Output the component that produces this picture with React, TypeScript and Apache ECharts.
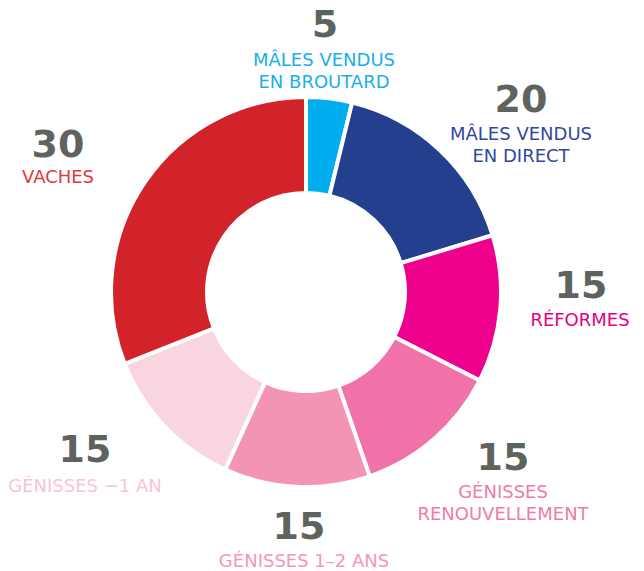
import React, { useEffect, useRef } from "react";
import * as echarts from "echarts";

// Categories (clockwise from the top)
const categories = [
  "MÂLES VENDUS\nEN BROUTARD",
  "MÂLES VENDUS\nEN DIRECT",
  "RÉFORMES",
  "GÉNISSES\nRENOUVELLEMENT",
  "GÉNISSES 1–2 ANS",
  "GÉNISSES −1 AN",
  "VACHES",
];
// Numbers printed next to each slice
const labelValues = [5, 20, 15, 15, 15, 15, 30];
// Share of the ring each slice occupies
const sliceShares = [3.8, 16.5, 12.2, 12.2, 12.1, 12.2, 31.0];

const sliceColors = ["#00aeef", "#253f8f", "#ec008c", "#f072a9", "#f394b4", "#f9d5e0", "#d2232a"];
const textColors = ["#1aaeea", "#2f4a9b", "#e6007e", "#f07aac", "#f497b6", "#f8c4d4", "#e0383e"];
// Label anchor positions: number center, text block center
const labelPos = [
  { nx: 325, ny: 24, tx: 324, ty: 70 },
  { nx: 521, ny: 99, tx: 521, ty: 144 },
  { nx: 581, ny: 285, tx: 580, ty: 319 },
  { nx: 503, ny: 457, tx: 503, ty: 502 },
  { nx: 299, ny: 526, tx: 304, ty: 560 },
  { nx: 85, ny: 449, tx: 85, ty: 485 },
  { nx: 58, ny: 144, tx: 58, ty: 176 },
];

export default function App() {
  const ref = useRef<HTMLDivElement>(null);
  useEffect(() => {
    if (!ref.current) return;
    const chart = echarts.init(ref.current, null, { renderer: "svg" });
    const graphics: any[] = [];
    categories.forEach((c, i) => {
      const p = labelPos[i];
      graphics.push({
        type: "text",
        x: p.nx,
        y: p.ny,
        style: {
          text: String(labelValues[i]),
          fill: "#5f635e",
          font: "bold 38px 'DejaVu Sans'",
          align: "center",
          verticalAlign: "middle",
        },
      });
      graphics.push({
        type: "text",
        x: p.tx,
        y: p.ty,
        style: {
          text: c,
          fill: textColors[i],
          font: "18px 'DejaVu Sans'",
          lineHeight: 22,
          align: "center",
          verticalAlign: "middle",
        },
      });
    });
    chart.setOption({
      animation: false,
      backgroundColor: "#ffffff",
      graphic: graphics,
      series: [
        {
          type: "pie",
          center: [306, 292],
          radius: [99, 195],
          startAngle: 90,
          clockwise: true,
          label: { show: false },
          labelLine: { show: false },
          emphasis: { disabled: true },
          itemStyle: { borderColor: "#ffffff", borderWidth: 4 },
          data: categories.map((c, i) => ({
            name: c,
            value: sliceShares[i],
            itemStyle: { color: sliceColors[i] },
          })),
        },
      ],
    });
    return () => chart.dispose();
  }, []);
  return (
    <div
      ref={ref}
      style={{ position: "absolute", left: 0, top: 0, width: 644, height: 571 }}
    />
  );
}
